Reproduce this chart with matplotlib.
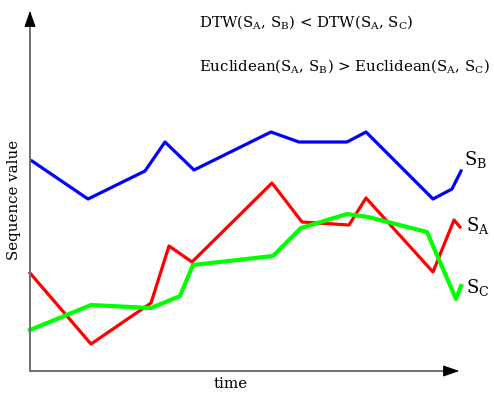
import matplotlib.pyplot as plt

# values (arbitrary units: time 0..432, value 0..363)
t_b = [2, 58, 115, 135, 164, 241, 269, 317, 336, 403, 422, 431]
s_b = [210, 172, 200, 229, 201, 239, 229, 229, 239, 172, 182, 200]

t_a = [0, 61, 121, 139, 162, 242, 272, 319, 336, 403, 424, 430]
s_a = [98, 27, 68, 125, 109, 188, 149, 146, 173, 99, 151, 144]

t_c = [0, 61, 121, 150, 163, 243, 271, 317, 338, 397, 426, 431]
s_c = [41, 66, 63, 75, 106, 115, 143, 157, 154, 139, 72, 85]

plt.rcParams['font.family'] = 'DejaVu Serif'
plt.rcParams['mathtext.fontset'] = 'dejavuserif'

W, H = 494, 420
fig = plt.figure(figsize=(W / 100, H / 100), dpi=100)
ax = fig.add_axes([30 / W, (H - 371) / H, 432 / W, 363 / H])
ax.set_xlim(0, 432)
ax.set_ylim(0, 363)
ax.axis('off')

ax.plot(t_b, s_b, color='#0000ff', linewidth=2.3, clip_on=False)
ax.plot(t_a, s_a, color='#ff0000', linewidth=2.3, clip_on=False)
ax.plot(t_c, s_c, color='#00ff00', linewidth=3.0, clip_on=False)

# axes with arrows
ax.plot([0, 420], [0, 0], color='#707070', linewidth=1.4, clip_on=False)
ax.plot([0, 0], [0, 350], color='#707070', linewidth=1.4, clip_on=False)
ax.annotate('', xy=(432, 0), xytext=(416, 0),
            arrowprops=dict(arrowstyle='-|>,head_length=1.0,head_width=0.35',
                            color='black', lw=0.8), annotation_clip=False)
ax.annotate('', xy=(0, 363), xytext=(0, 347),
            arrowprops=dict(arrowstyle='-|>,head_length=1.0,head_width=0.35',
                            color='black', lw=0.8), annotation_clip=False)

fig.text(231 / W, 1 - 384 / H, 'time', ha='center', va='center', fontsize=10.8)
fig.text(14 / W, 1 - 200 / H, 'Sequence value', ha='center', va='center',
         rotation=90, fontsize=10.8)

fig.text(199 / W, 1 - 22 / H,
         r'DTW(S$_\mathregular{A}$, S$_\mathregular{B}$) < DTW(S$_\mathregular{A}$, S$_\mathregular{C}$)',
         ha='left', va='center', fontsize=10.8)
fig.text(199 / W, 1 - 66 / H,
         r'Euclidean(S$_\mathregular{A}$, S$_\mathregular{B}$) > Euclidean(S$_\mathregular{A}$, S$_\mathregular{C}$)',
         ha='left', va='center', fontsize=10.8)

fig.text(464 / W, 1 - 160 / H, r'S$_\mathregular{B}$', ha='left', va='center', fontsize=13)
fig.text(466 / W, 1 - 225 / H, r'S$_\mathregular{A}$', ha='left', va='center', fontsize=13)
fig.text(466 / W, 1 - 288 / H, r'S$_\mathregular{C}$', ha='left', va='center', fontsize=13)

fig.savefig('out.png', dpi=100)
